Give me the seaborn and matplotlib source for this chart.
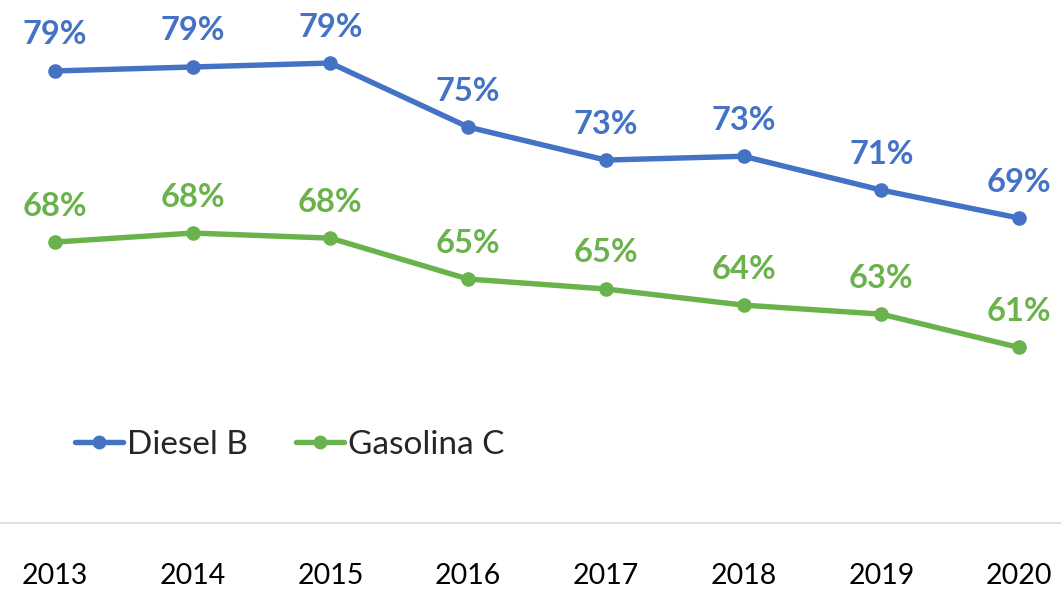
import matplotlib
matplotlib.use("Agg")
import matplotlib.pyplot as plt
import pandas as pd
import seaborn as sns

# Data
years = ["2013", "2014", "2015", "2016", "2017", "2018", "2019", "2020"]
diesel = [78.7, 78.95, 79.2, 75.15, 73.06, 73.3, 71.16, 69.39]
gasolina = [67.87, 68.44, 68.12, 65.53, 64.9, 63.88, 63.31, 61.2]
diesel_labels = ["79%", "79%", "79%", "75%", "73%", "73%", "71%", "69%"]
gasolina_labels = ["68%", "68%", "68%", "65%", "65%", "64%", "63%", "61%"]
series_names = ["Diesel B", "Gasolina C"]

BLUE = "#4472C4"
GREEN = "#6AB34C"


def make_plot():
    sns.set_theme(style="white")
    plt.rcParams["font.family"] = ["Lato", "DejaVu Sans"]

    df = pd.DataFrame({
        "pos": list(range(len(years))) * 2,
        "value": diesel + gasolina,
        "serie": [series_names[0]] * len(years) + [series_names[1]] * len(years),
    })

    W, H = 1061, 589
    fig = plt.figure(figsize=(W / 100, H / 100), dpi=100)
    ax = fig.add_axes([0, 1 - 523 / H, 1, 523 / H])

    sns.lineplot(data=df, x="pos", y="value", hue="serie",
                 palette=[BLUE, GREEN], marker="o", markersize=10.5,
                 markeredgewidth=0, linewidth=3.9, ax=ax, legend=False)

    # data labels above each point
    for vals, labs, col in [(diesel, diesel_labels, BLUE), (gasolina, gasolina_labels, GREEN)]:
        for i, (v, t) in enumerate(zip(vals, labs)):
            ax.annotate(t, xy=(i, v), xytext=(0, 15.5), textcoords="offset points",
                        ha="center", va="bottom", color=col, fontsize=23.5,
                        fontweight="bold")

    px = 137.71
    ax.set_xlim(-55 / px, (W - 55) / px)
    ax.set_ylim(50.09, 83.19)

    ax.set_xticks(range(len(years)))
    ax.set_xticklabels(years, fontsize=20.5, color="black")
    ax.set_yticks([])
    ax.tick_params(axis="x", length=0, pad=29)
    ax.set_xlabel("")
    ax.set_ylabel("")
    for s in ["top", "left", "right"]:
        ax.spines[s].set_visible(False)
    ax.spines["bottom"].set_color("#D9D9D9")
    ax.spines["bottom"].set_linewidth(1.2)
    ax.patch.set_alpha(0)

    handles = [plt.Line2D([], [], color=c, marker="o", markersize=10,
                          markeredgewidth=0, linewidth=3.9) for c in (BLUE, GREEN)]
    ax.legend(handles, series_names, loc="center left",
              bbox_to_anchor=(75 / W, 1 - 445 / H), bbox_transform=fig.transFigure,
              ncol=2, frameon=False, fontsize=24, handlelength=1.45,
              handletextpad=0.1, columnspacing=1.45, borderpad=0, borderaxespad=0)

    fig.savefig("out.png", dpi=100, facecolor="white")
    plt.close(fig)


if __name__ == "__main__":
    make_plot()
